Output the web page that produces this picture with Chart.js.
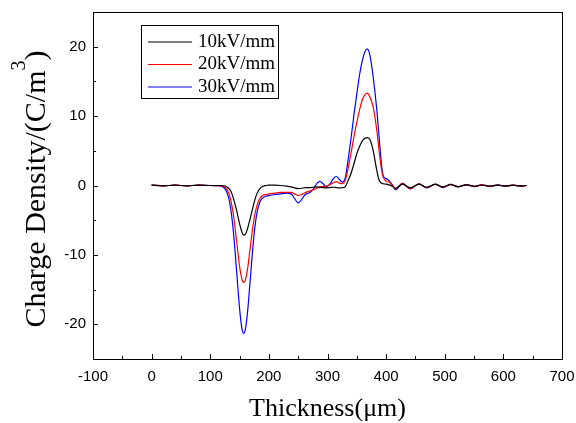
<!DOCTYPE html>
<html lang="en">
<head>
<meta charset="UTF-8">
<title>Charge Density</title>
<script src="https://cdn.jsdelivr.net/npm/chart.js"></script>
<style>
    html, body { margin: 0; padding: 0; background: #fff; }
    .chart-box { width: 576px; height: 423px; }
</style>
</head>
<body>
<div class="chart-box"><canvas id="chart"></canvas></div>
<script>
    // thickness positions (um) shared by the three curves
    const thickness = [0, 20, 40, 60, 80, 100, 110, 120, 130, 135,
        140, 145, 150, 154, 157, 160, 164, 168, 172, 176,
        180, 185, 190, 195, 200, 210, 220, 230, 238, 244,
        250, 256, 262, 270, 276, 282, 287, 292, 298, 304,
        310, 315, 320, 325, 330, 335, 340, 345, 350, 355,
        360, 364, 368, 372, 378, 384, 388, 392, 395, 400,
        405, 411, 416, 428, 441, 456, 469, 484, 497, 510,
        523, 537, 551, 563, 578, 590, 604, 616, 630, 640];

    const rho10 = [0.05, -0.05, 0.05, -0.05, 0.05, 0, 0, 0, -0.3, -0.8,
        -2.0, -3.6, -5.5, -6.7, -7.15, -7.0, -6.1, -4.8, -3.4, -2.1,
        -1.1, -0.4, -0.1, 0, 0.05, 0.05, 0, -0.1, -0.2, -0.35,
        -0.45, -0.4, -0.3, -0.3, -0.25, -0.2, -0.25, -0.3, -0.35, -0.3,
        -0.25, -0.3, -0.35, -0.3, -0.2, 0.7, 1.7, 3.1, 4.6, 5.7,
        6.5, 6.8, 6.9, 6.7, 5.0, 2.2, 0.8, 0.35, 0.25, 0.2,
        0.1, -0.1, -0.4, 0.2, -0.35, 0.2, -0.25, 0.15, -0.2, 0.12,
        -0.15, 0.1, -0.12, 0.07, -0.08, 0.05, -0.06, 0.04, -0.05, 0];

    const rho20 = [0.05, -0.05, 0.05, -0.05, 0.05, 0, -0.01, -0.05, -0.8, -2.1,
        -4.5, -8.0, -11.6, -13.5, -14.0, -13.6, -11.8, -9.1, -6.4, -4.2,
        -2.8, -1.8, -1.4, -1.3, -1.2, -1.1, -1.0, -1.0, -1.0, -1.2,
        -1.45, -1.3, -1.0, -0.8, -0.6, -0.4, -0.2, -0.15, -0.1, 0.1,
        0.4, 0.55, 0.35, 0.25, 0.7, 2.4, 4.6, 7.0, 9.1, 11.0,
        12.5, 13.1, 13.3, 12.8, 11.3, 8.0, 5.0, 2.4, 1.2, 0.6,
        0.5, 0, -0.5, 0.3, -0.45, 0.25, -0.3, 0.2, -0.25, 0.15,
        -0.18, 0.1, -0.13, 0.08, -0.1, 0.07, -0.08, 0.05, -0.06, 0];

    const rho30 = [0.05, -0.05, 0.05, -0.05, 0.05, 0, -0.02, -0.12, -1.35, -3.4,
        -7.1, -12.4, -17.7, -20.6, -21.3, -20.7, -17.9, -13.8, -9.6, -6.1,
        -3.8, -2.3, -1.75, -1.55, -1.45, -1.3, -1.2, -1.1, -1.2, -1.9,
        -2.5, -2.0, -1.3, -1.0, -0.5, 0.3, 0.6, 0.3, -0.2, 0.2,
        1.0, 1.3, 0.9, 0.5, 1.0, 3.6, 6.7, 10.1, 13.2, 16.1,
        18.2, 19.3, 19.7, 18.9, 15.6, 11.0, 7.0, 3.1, 1.4, 1.0,
        0.7, 0, -0.6, 0.3, -0.5, 0.25, -0.35, 0.2, -0.3, 0.15,
        -0.2, 0.12, -0.15, 0.1, -0.12, 0.08, -0.1, 0.06, -0.08, 0];

    const seriesLabels = ['10kV/mm', '20kV/mm', '30kV/mm'];
    const seriesColors = ['#000000', '#ff0000', '#0000ff'];

    const xTickValues = [-100, 0, 100, 200, 300, 400, 500, 600, 700];
    const yTickValues = [-20, -10, 0, 10, 20];

    const sansFont = "'Liberation Sans', Arial, sans-serif";
    const serifFont = "'Liberation Serif', 'Times New Roman', serif";

    function toPoints(ys) {
        return thickness.map((x, i) => ({ x: x, y: ys[i] }));
    }

    // chart.js adds label overflow + tick padding to the plot edges; drop it
    function fixScale(s, size) {
        if (s.isHorizontal()) s.height = size; else s.width = size;
        s.paddingLeft = s.paddingRight = s.paddingTop = s.paddingBottom = 0;
    }

    // frame, inward ticks, axis titles and legend box (Origin look)
    const originPlugin = {
        id: 'originLook',
        afterDraw(chart) {
            const { ctx, chartArea: a, scales: { x, y } } = chart;
            ctx.save();
            ctx.strokeStyle = '#000';
            ctx.lineWidth = 1;
            ctx.strokeRect(a.left + 0.5, a.top + 0.5, a.right - a.left, a.bottom - a.top);

            ctx.beginPath();
            xTickValues.forEach((v, i) => {
                const px = Math.round(x.getPixelForValue(v)) + 0.5;
                ctx.moveTo(px, a.bottom); ctx.lineTo(px, a.bottom - 5);
                if (i < xTickValues.length - 1) {
                    const m = Math.round(x.getPixelForValue((v + xTickValues[i + 1]) / 2)) + 0.5;
                    ctx.moveTo(m, a.bottom); ctx.lineTo(m, a.bottom - 3);
                }
            });
            const yStep = yTickValues[1] - yTickValues[0];
            yTickValues.forEach(v => {
                const py = Math.round(y.getPixelForValue(v)) + 0.5;
                ctx.moveTo(a.left, py); ctx.lineTo(a.left + 5, py);
                [v - yStep / 2, v + yStep / 2].forEach(m => {
                    if (m > y.min && m < y.max) {
                        const pm = Math.round(y.getPixelForValue(m)) + 0.5;
                        ctx.moveTo(a.left, pm); ctx.lineTo(a.left + 3, pm);
                    }
                });
            });
            ctx.stroke();

            // x title
            ctx.fillStyle = '#000';
            ctx.font = '26px ' + serifFont;
            ctx.textAlign = 'center';
            ctx.textBaseline = 'alphabetic';
            ctx.fillText('Thickness(\u03bcm)', (a.left + a.right) / 2, 416);

            // y title with superscript
            const mainTxt = 'Charge Density/(C/m';
            ctx.font = '30px ' + serifFont;
            const w1 = ctx.measureText(mainTxt).width;
            const w3 = ctx.measureText(')').width;
            ctx.font = '20px ' + serifFont;
            const w2 = ctx.measureText('3').width;
            const total = w1 + w2 + w3;
            ctx.translate(45, 189);
            ctx.rotate(-Math.PI / 2);
            ctx.textAlign = 'left';
            ctx.font = '30px ' + serifFont;
            ctx.fillText(mainTxt, -total / 2, 0);
            ctx.font = '20px ' + serifFont;
            ctx.fillText('3', -total / 2 + w1, -20);
            ctx.font = '30px ' + serifFont;
            ctx.fillText(')', -total / 2 + w1 + w2, 0);
            ctx.setTransform(1, 0, 0, 1, 0, 0);

            // legend
            ctx.strokeRect(141.5, 25.5, 137, 73);
            ctx.font = '19px ' + serifFont;
            ctx.textBaseline = 'middle';
            chart.data.datasets.forEach((ds, i) => {
                const ly = 42 + i * 22.5;
                ctx.strokeStyle = ds.borderColor;
                ctx.beginPath();
                ctx.moveTo(148, ly); ctx.lineTo(192, ly);
                ctx.stroke();
                ctx.fillStyle = '#000';
                ctx.fillText(ds.label, 198, ly);
            });
            ctx.restore();
        }
    };

    const datasets = [rho10, rho20, rho30].map((ys, i) => ({
        label: seriesLabels[i],
        data: toPoints(ys),
        borderColor: seriesColors[i],
        borderWidth: 1.2,
        pointRadius: 0,
        fill: false,
        cubicInterpolationMode: 'monotone'
    }));

    new Chart(document.getElementById('chart'), {
        type: 'line',
        data: { datasets: datasets },
        options: {
            responsive: true,
            maintainAspectRatio: false,
            animation: false,
            layout: { padding: { left: 0, right: 14, top: 12, bottom: 0 } },
            plugins: { legend: { display: false }, tooltip: { enabled: false } },
            scales: {
                x: {
                    type: 'linear',
                    min: -100,
                    max: 700,
                    afterBuildTicks: s => { s.ticks = xTickValues.map(v => ({ value: v })); },
                    afterFit: s => fixScale(s, 64),
                    grid: { display: false, drawTicks: false },
                    border: { display: false },
                    ticks: { color: '#000', padding: 9, maxRotation: 0, font: { family: sansFont, size: 15 } }
                },
                y: {
                    min: -25,
                    max: 25,
                    afterBuildTicks: s => { s.ticks = yTickValues.map(v => ({ value: v })); },
                    afterFit: s => fixScale(s, 93),
                    grid: { display: false, drawTicks: false },
                    border: { display: false },
                    ticks: { color: '#000', padding: 7, font: { family: sansFont, size: 15 } }
                }
            }
        },
        plugins: [originPlugin]
    });
</script>
</body>
</html>
